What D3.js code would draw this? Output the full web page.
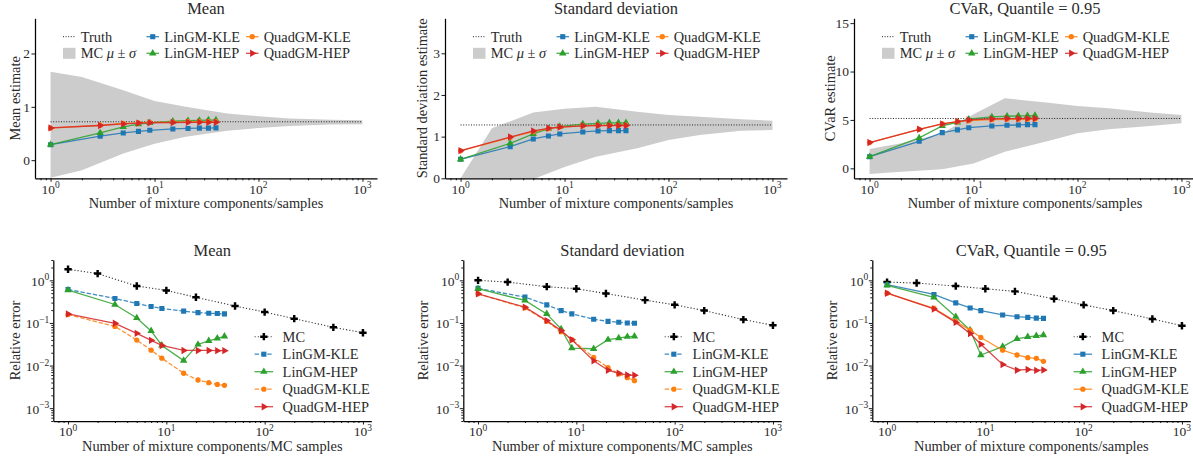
<!DOCTYPE html>
<html lang="en">
<head>
<meta charset="UTF-8">
<title>GM vs MC estimates</title>
<script src="https://d3js.org/d3.v7.min.js"></script>
<style>
  body { margin: 0; background: #fff; }
  text { font-family: "Liberation Serif", serif; fill: #2a2a2a; }
</style>
</head>
<body>
<script>
// number of mixture components / MC samples
const gmN = [1, 3, 5, 7, 9, 15, 21, 27, 33, 39];
const mcN = [1, 2, 5, 10, 20, 50, 100, 200, 500, 1000];
const methods = ["LinGM-KLE", "LinGM-HEP", "QuadGM-KLE", "QuadGM-HEP"];

// true values
const truthMean = 0.72;
const truthStd = 1.28;
const truthCvar = 5.15;

// MC mean +- std bands (top row)
const mcMeanLo = [-0.33, -0.19, 0.125, 0.31, 0.44, 0.55, 0.605, 0.64, 0.67, 0.675];
const mcMeanHi = [1.66, 1.56, 1.31, 1.11, 1.00, 0.875, 0.825, 0.78, 0.76, 0.75];
const mcStdLo = [0.0, -0.9, -0.02, 0.27, 0.52, 0.72, 0.92, 1.04, 1.14, 1.16];
const mcStdHi = [0.0, 1.2, 1.58, 1.67, 1.72, 1.6, 1.52, 1.48, 1.42, 1.38];
const mcCvarLo = [-0.59, -0.35, -0.1, 0.5, 1.72, 2.76, 3.62, 4.03, 4.38, 4.66];
const mcCvarHi = [2.0, 2.6, 3.6, 5.6, 7.24, 6.8, 6.45, 6.2, 5.76, 5.5];

// GM estimates (top row)
const meanLinKle = [0.29, 0.45, 0.51, 0.54, 0.56, 0.585, 0.595, 0.60, 0.60, 0.605];
const meanLinHep = [0.29, 0.51, 0.625, 0.675, 0.70, 0.73, 0.74, 0.745, 0.75, 0.75];
const meanQuadKle = [0.60, 0.655, 0.69, 0.70, 0.71, 0.715, 0.72, 0.72, 0.72, 0.72];
const meanQuadHep = [0.605, 0.65, 0.68, 0.695, 0.70, 0.705, 0.71, 0.71, 0.71, 0.71];

const stdLinKle = [0.456, 0.76, 0.944, 1.016, 1.064, 1.112, 1.136, 1.144, 1.144, 1.144];
const stdLinHep = [0.456, 0.84, 1.064, 1.19, 1.24, 1.30, 1.32, 1.33, 1.33, 1.33];
const stdQuadKle = [0.66, 0.98, 1.12, 1.19, 1.23, 1.26, 1.27, 1.27, 1.27, 1.275];
const stdQuadHep = [0.664, 0.99, 1.136, 1.2, 1.23, 1.26, 1.265, 1.265, 1.265, 1.265];

const cvarLinKle = [1.2, 2.79, 3.69, 3.97, 4.2, 4.38, 4.45, 4.48, 4.52, 4.52];
const cvarLinHep = [1.2, 3.14, 4.38, 4.76, 5.07, 5.31, 5.38, 5.41, 5.42, 5.45];
const cvarQuadKle = [2.66, 4.03, 4.6, 4.82, 4.92, 5.03, 5.06, 5.07, 5.08, 5.09];
const cvarQuadHep = [2.66, 4.03, 4.59, 4.83, 5.0, 5.1, 5.14, 5.14, 5.14, 5.14];

// relative errors (bottom row)
const errMeanMc = [1.82, 1.44, 0.735, 0.58, 0.40, 0.25, 0.18, 0.126, 0.079, 0.059];
const errMeanLinKle = [0.61, 0.376, 0.286, 0.243, 0.218, 0.189, 0.175, 0.169, 0.166, 0.163];
const errMeanLinHep = [0.59, 0.271, 0.131, 0.065, 0.0297, 0.0131, 0.0313, 0.038, 0.0434, 0.0484];
const errMeanQuadKle = [0.157, 0.083, 0.0397, 0.023, 0.0149, 0.0066, 0.00458, 0.00397, 0.0036, 0.00343];
const errMeanQuadHep = [0.163, 0.098, 0.057, 0.039, 0.0297, 0.0226, 0.0226, 0.0226, 0.0224, 0.0224];

const errStdMc = [1.0, 0.91, 0.71, 0.635, 0.49, 0.343, 0.266, 0.195, 0.12, 0.088];
const errStdLinKle = [0.647, 0.404, 0.266, 0.195, 0.163, 0.122, 0.109, 0.104, 0.1, 0.098];
const errStdLinHep = [0.635, 0.337, 0.163, 0.072, 0.0257, 0.0248, 0.0404, 0.0442, 0.0475, 0.0484];
const errStdQuadKle = [0.484, 0.226, 0.109, 0.0624, 0.0404, 0.0155, 0.00897, 0.00636, 0.0052, 0.00442];
const errStdQuadHep = [0.484, 0.234, 0.1135, 0.066, 0.0404, 0.0129, 0.00776, 0.0066, 0.006, 0.0059];

const errCvarMc = [0.91, 0.865, 0.734, 0.635, 0.55, 0.368, 0.265, 0.195, 0.124, 0.086];
const errCvarLinKle = [0.79, 0.466, 0.296, 0.225, 0.195, 0.154, 0.14, 0.135, 0.13, 0.128];
const errCvarLinHep = [0.76, 0.40, 0.14, 0.068, 0.0177, 0.0279, 0.0424, 0.0472, 0.0499, 0.0517];
const errCvarQuadKle = [0.5, 0.221, 0.109, 0.068, 0.0457, 0.0229, 0.0177, 0.0153, 0.0148, 0.0126];
const errCvarQuadHep = [0.5, 0.213, 0.103, 0.0566, 0.0316, 0.0106, 0.0078, 0.0081, 0.0077, 0.0079];

// look of each method
const colors = {"LinGM-KLE": "#1f77b4", "LinGM-HEP": "#2ca02c", "QuadGM-KLE": "#ff7f0e", "QuadGM-HEP": "#d62728", "MC": "#000"};
const symbols = {
  "LinGM-KLE": {type: d3.symbolSquare, size: 26, rot: 0},
  "LinGM-HEP": {type: d3.symbolTriangle, size: 24, rot: 0},
  "QuadGM-KLE": {type: d3.symbolCircle, size: 22, rot: 0},
  "QuadGM-HEP": {type: d3.symbolTriangle, size: 24, rot: 90},
  "MC": {type: d3.symbolCross, size: 30, rot: 0}
};

const W = 1193, H = 457;
const svg = d3.select("body").append("svg").attr("width", W).attr("height", H);

const topRow = {top: 18.3, bottom: 178.3, width: 342, xdom: [10 ** -0.15, 10 ** 3.14]};
const botRow = {top: 260, bottom: 421, width: 318, xdom: [10 ** -0.15, 10 ** 3.085]};
const errDom = [5e-4, 3];

const panels = [
  {id: 1, row: topRow, left: 35, title: "Mean", ylabel: "Mean estimate", ylabelX: 19.5,
   xlabel: "Number of mixture components/samples",
   ydom: [-0.34, 2.66], yticks: [0, 1, 2], truth: truthMean, lo: mcMeanLo, hi: mcMeanHi,
   series: [meanLinKle, meanLinHep, meanQuadKle, meanQuadHep]},
  {id: 2, row: topRow, left: 445, title: "Standard deviation", ylabel: "Standard deviation estimate", ylabelX: 427,
   xlabel: "Number of mixture components/samples",
   ydom: [0, 3.84], yticks: [0, 1, 2, 3], truth: truthStd, lo: mcStdLo, hi: mcStdHi,
   series: [stdLinKle, stdLinHep, stdQuadKle, stdQuadHep]},
  {id: 3, row: topRow, left: 854, title: "CVaR, Quantile = 0.95", ylabel: "CVaR estimate", ylabelX: 835,
   xlabel: "Number of mixture components/samples",
   ydom: [-1.03, 15.5], yticks: [0, 5, 10, 15], truth: truthCvar, lo: mcCvarLo, hi: mcCvarHi,
   series: [cvarLinKle, cvarLinHep, cvarQuadKle, cvarQuadHep]},
  {id: 4, row: botRow, left: 53.3, title: "Mean", ylabel: "Relative error", ylabelX: 19.8, logY: true,
   xlabel: "Number of mixture components/MC samples", dashedKle: true, ydom: errDom,
   mc: errMeanMc, series: [errMeanLinKle, errMeanLinHep, errMeanQuadKle, errMeanQuadHep]},
  {id: 5, row: botRow, left: 463.3, title: "Standard deviation", ylabel: "Relative error", ylabelX: 428, logY: true,
   xlabel: "Number of mixture components/MC samples", dashedKle: true, ydom: errDom,
   mc: errStdMc, series: [errStdLinKle, errStdLinHep, errStdQuadKle, errStdQuadHep]},
  {id: 6, row: botRow, left: 872.3, title: "CVaR, Quantile = 0.95", ylabel: "Relative error", ylabelX: 837, logY: true,
   xlabel: "Number of mixture components/samples", dashedKle: false, ydom: errDom,
   mc: errCvarMc, series: [errCvarLinKle, errCvarLinHep, errCvarQuadKle, errCvarQuadHep]}
];

function symbolPath(name) {
  return d3.symbol().type(symbols[name].type).size(symbols[name].size)();
}

function drawMarker(g, name, cx, cy) {
  g.append("path")
    .attr("d", symbolPath(name))
    .attr("transform", `translate(${cx},${cy}) rotate(${symbols[name].rot})`)
    .attr("fill", colors[name]);
}

function powLabel(sel, exp) {
  sel.append("tspan").text("10");
  sel.append("tspan").attr("dy", -5.5).attr("font-size", 9.5).text(exp < 0 ? "\u2212" + (-exp) : exp);
}

function logMinors(dom) {
  const out = [];
  for (let e = -4; e <= 3; e++)
    for (let k = 2; k <= 9; k++) {
      const v = k * 10 ** e;
      if (v >= dom[0] && v <= dom[1]) out.push(v);
    }
  return out;
}

function drawPanel(p) {
  const r = p.row;
  const right = p.left + r.width;
  const x = d3.scaleLog().domain(r.xdom).range([p.left, right]);
  const y = (p.logY ? d3.scaleLog() : d3.scaleLinear()).domain(p.ydom).range([r.bottom, r.top]);
  const g = svg.append("g");

  svg.append("clipPath").attr("id", "clip" + p.id).append("rect")
    .attr("x", p.left).attr("y", r.top).attr("width", r.width).attr("height", r.bottom - r.top);
  const plot = g.append("g").attr("clip-path", `url(#clip${p.id})`);

  if (!p.logY) {
    // MC band and truth line
    const band = mcN.map((n, i) => ({n: n, lo: p.lo[i], hi: p.hi[i]}));
    plot.append("path")
      .datum(band)
      .attr("fill", "#cccccc")
      .attr("d", d3.area().x(d => x(d.n)).y0(d => y(d.lo)).y1(d => y(d.hi)));
    plot.append("line")
      .attr("x1", x(mcN[0])).attr("x2", x(mcN[mcN.length - 1]))
      .attr("y1", y(p.truth)).attr("y2", y(p.truth))
      .attr("stroke", "#222").attr("stroke-width", 1).attr("stroke-dasharray", "1,1.6");
  } else {
    // MC error line
    const pts = mcN.map((n, i) => [n, p.mc[i]]);
    plot.append("path").datum(pts)
      .attr("fill", "none").attr("stroke", "#333").attr("stroke-width", 1.1)
      .attr("stroke-dasharray", "1.2,2")
      .attr("d", d3.line().x(d => x(d[0])).y(d => y(d[1])));
    pts.forEach(d => drawMarker(plot, "MC", x(d[0]), y(d[1])));
  }

  methods.forEach((m, j) => {
    const pts = gmN.map((n, i) => [n, p.series[j][i]]);
    const dashed = p.dashedKle && m.endsWith("KLE");
    plot.append("path").datum(pts)
      .attr("fill", "none").attr("stroke", colors[m]).attr("stroke-width", 1.3)
      .attr("stroke-opacity", 0.85)
      .attr("stroke-dasharray", dashed ? "4.4,1.9" : null)
      .attr("d", d3.line().x(d => x(d[0])).y(d => y(d[1])));
    pts.forEach(d => drawMarker(plot, m, x(d[0]), y(d[1])));
  });

  // x axis
  const xAxisG = g.append("g").attr("transform", `translate(0,${r.bottom})`);
  xAxisG.append("g")
    .call(d3.axisBottom(x).tickValues(logMinors(r.xdom)).tickSize(2).tickFormat("").tickSizeOuter(0))
    .call(a => a.select(".domain").remove());
  xAxisG.append("g")
    .call(d3.axisBottom(x).tickValues([1, 10, 100, 1000]).tickSize(3.5).tickFormat("").tickSizeOuter(0));
  xAxisG.selectAll("path.domain").attr("stroke", "#000").attr("stroke-width", 1.25);
  [0, 1, 2, 3].forEach(e => {
    g.append("text").attr("x", x(10 ** e)).attr("y", r.bottom + 15.3)
      .attr("text-anchor", "middle").attr("font-size", 13.5)
      .call(s => powLabel(s, e));
  });

  // y axis
  const yAxisG = g.append("g").attr("transform", `translate(${p.left},0)`);
  if (p.logY) {
    yAxisG.append("g")
      .call(d3.axisLeft(y).tickValues(logMinors(p.ydom)).tickSize(2).tickFormat("").tickSizeOuter(0))
      .call(a => a.select(".domain").remove());
    const majors = [-3, -2, -1, 0];
    yAxisG.append("g")
      .call(d3.axisLeft(y).tickValues(majors.map(e => 10 ** e)).tickSize(3.5).tickFormat("").tickSizeOuter(0));
    majors.forEach(e => {
      g.append("text").attr("x", p.left - 4).attr("y", y(10 ** e) + 5.5)
        .attr("text-anchor", "end").attr("font-size", 13.5)
        .call(s => powLabel(s, e));
    });
  } else {
    yAxisG.append("g")
      .call(d3.axisLeft(y).tickValues(p.yticks).tickSize(3.5).tickFormat("").tickSizeOuter(0));
    p.yticks.forEach(v => {
      g.append("text").attr("x", p.left - 5).attr("y", y(v) + 4.8)
        .attr("text-anchor", "end").attr("font-size", 13.5).text(v);
    });
  }
  yAxisG.selectAll("path.domain").attr("stroke", "#000").attr("stroke-width", 1.25);
  g.selectAll(".tick line").attr("stroke", "#000").attr("stroke-width", 0.9);

  // titles and labels
  const cx = (p.left + right) / 2;
  g.append("text").attr("x", cx).attr("y", r.top - 4)
    .attr("text-anchor", "middle").attr("font-size", 16.5).text(p.title);
  g.append("text").attr("x", cx).attr("y", r.bottom + 29.5)
    .attr("text-anchor", "middle").attr("font-size", 14.4).text(p.xlabel);
  g.append("text")
    .attr("transform", `translate(${p.ylabelX},${(r.top + r.bottom) / 2}) rotate(-90)`)
    .attr("text-anchor", "middle").attr("font-size", 14.4).text(p.ylabel);

  if (!p.logY) topLegend(g, cx, r.top);
  else bottomLegend(g, right, r.top, p.dashedKle);
}

function topLegend(g, cx, top) {
  const x0 = cx - 143;
  const rows = [top + 18.4, top + 35];
  const cols = [0, 83.5, 183];
  const hl = 12.5;
  // Truth
  g.append("line").attr("x1", x0).attr("x2", x0 + hl).attr("y1", rows[0]).attr("y2", rows[0])
    .attr("stroke", "#222").attr("stroke-width", 1).attr("stroke-dasharray", "1,1.6");
  g.append("text").attr("x", x0 + cols[0] + 17.7).attr("y", rows[0] + 4.8).attr("font-size", 14.4).text("Truth");
  // MC band
  g.append("rect").attr("x", x0).attr("y", rows[1] - 5.5).attr("width", hl).attr("height", 11).attr("fill", "#cccccc");
  const t = g.append("text").attr("x", x0 + cols[0] + 17.7).attr("y", rows[1] + 4.8).attr("font-size", 14.4);
  t.append("tspan").text("MC ");
  t.append("tspan").attr("font-style", "italic").text("\u03bc");
  t.append("tspan").text(" \u00b1 ");
  t.append("tspan").attr("font-style", "italic").text("\u03c3");
  methods.forEach((m, j) => {
    const hx = x0 + cols[1 + Math.floor(j / 2)];
    const hy = rows[j % 2];
    g.append("line").attr("x1", hx).attr("x2", hx + hl).attr("y1", hy).attr("y2", hy)
      .attr("stroke", colors[m]).attr("stroke-width", 1.3).attr("stroke-opacity", 0.85);
    drawMarker(g, m, hx + hl / 2, hy);
    g.append("text").attr("x", hx + 17.7).attr("y", hy + 4.8).attr("font-size", 14.4).text(m);
  });
}

function bottomLegend(g, right, top, dashedKle) {
  const hx = right - 116.7;
  const names = ["MC"].concat(methods);
  names.forEach((m, i) => {
    const hy = top + 76.7 + i * 17.5;
    const dash = m === "MC" ? "1.2,2" : (dashedKle && m.endsWith("KLE") ? "4.4,1.9" : null);
    g.append("line").attr("x1", hx).attr("x2", hx + 18.5).attr("y1", hy).attr("y2", hy)
      .attr("stroke", m === "MC" ? "#333" : colors[m]).attr("stroke-width", m === "MC" ? 1.1 : 1.3)
      .attr("stroke-opacity", 0.85).attr("stroke-dasharray", dash);
    drawMarker(g, m, hx + 9.25, hy);
    g.append("text").attr("x", right - 88.7).attr("y", hy + 4.8).attr("font-size", 14.4).text(m);
  });
}

panels.forEach(drawPanel);
</script>
</body>
</html>
